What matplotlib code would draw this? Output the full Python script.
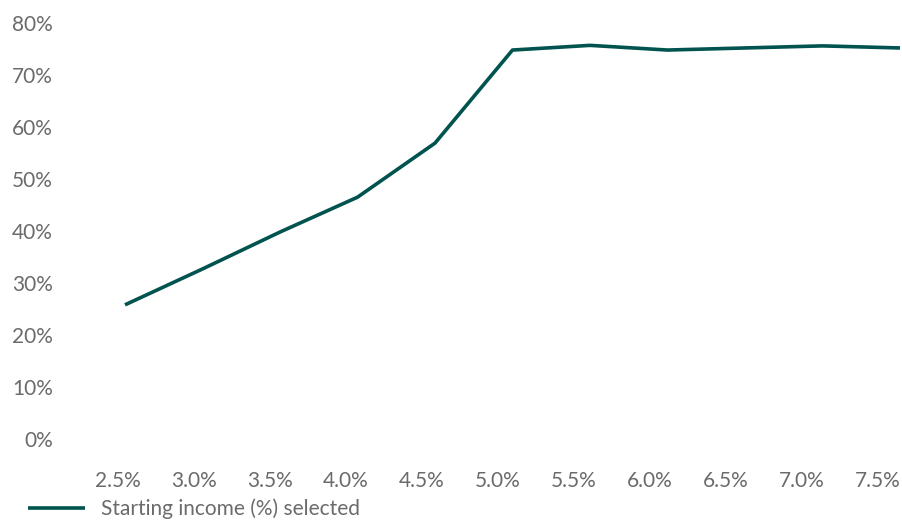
import matplotlib
matplotlib.use("Agg")
import matplotlib.pyplot as plt

# Data
income_labels = ["2.5%", "3.0%", "3.5%", "4.0%", "4.5%", "5.0%",
                 "5.5%", "6.0%", "6.5%", "7.0%", "7.5%"]
selected_pct = [25.8, 32.7, 39.8, 46.5, 56.9, 74.8, 75.7, 74.8, 75.2, 75.6, 75.2]
y_ticks = [0, 10, 20, 30, 40, 50, 60, 70, 80]
series_name = "Starting income (%) selected"

LINE_COLOR = "#00534e"
TEXT_COLOR = "#6b6b6b"
FONT = "Lato"
FS = 15

W, H = 903, 520
fig = plt.figure(figsize=(W / 100, H / 100), dpi=100)

left_px, right_px = 60, 903
y0_px, y80_px = 439, 23
ax = fig.add_axes([left_px / W, (H - y0_px) / H,
                   (right_px - left_px) / W, (y0_px - y80_px) / H])

# line: first point at 125px, 77.5px per step
step = 77.5
xs = list(range(len(selected_pct)))
ax.plot(xs, selected_pct, color=LINE_COLOR, lw=2.6, solid_capstyle="butt",
        clip_on=False, label=series_name)
ax.set_xlim(-(125 - left_px) / step, 10 + (right_px - 900) / step)
ax.set_ylim(0, 80)

ax.set_yticks(y_ticks)
ax.set_yticklabels([f"{v}%" for v in y_ticks], fontsize=FS, color=TEXT_COLOR,
                   family=FONT)
ax.tick_params(axis="y", length=0, pad=5)
ax.set_xticks([])
for s in ax.spines.values():
    s.set_visible(False)

# category labels sit on a slightly different spacing than the line
lab = ax.twiny()
lab.set_position(ax.get_position())
lstep = 76
lab.set_xlim(-(118 - left_px) / lstep, (right_px - 118) / lstep)
lab.set_xticks(range(len(income_labels)))
lab.set_xticklabels(income_labels, fontsize=FS, color=TEXT_COLOR, family=FONT)
lab.xaxis.set_ticks_position("bottom")
lab.xaxis.set_label_position("bottom")
lab.tick_params(axis="x", length=0, pad=23)
for s in lab.spines.values():
    s.set_visible(False)

fig.legend(loc="center left", bbox_to_anchor=(28 / W, (H - 509) / H),
           frameon=False, borderpad=0, borderaxespad=0, handlelength=2.75,
           handletextpad=0.77, prop={"family": FONT, "size": FS},
           labelcolor=TEXT_COLOR)

fig.savefig("out.png", dpi=100)
